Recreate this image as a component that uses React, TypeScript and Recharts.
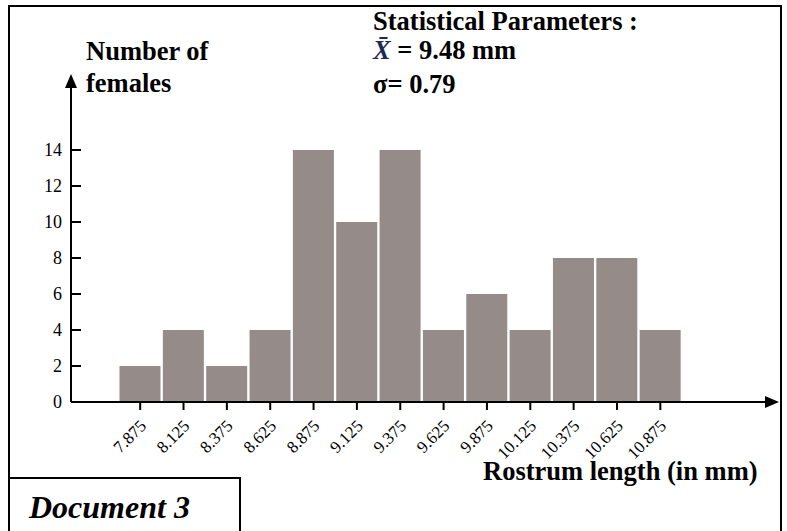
import React from 'react';
import { BarChart, Bar, XAxis, YAxis } from 'recharts';

const categories = ['7.875', '8.125', '8.375', '8.625', '8.875', '9.125', '9.375', '9.625', '9.875', '10.125', '10.375', '10.625', '10.875'];
const counts = [2, 4, 2, 4, 14, 10, 14, 4, 6, 4, 8, 8, 4];
const yTicks = [0, 2, 4, 6, 8, 10, 12, 14];

const data = categories.map((c, i) => ({ bin: c, count: counts[i] }));

const SERIF = '"Liberation Serif", "Times New Roman", serif';
const BAR_FILL = '#958b89';
const AXIS_X = 71;

const YTick = (props: any) => {
  const { y, payload } = props;
  return (
    <g>
      <line x1={AXIS_X} x2={AXIS_X + 10} y1={y} y2={y} stroke="#000" strokeWidth={2} />
      <text x={62} y={y} dy="0.36em" textAnchor="end" fontFamily={SERIF} fontSize={18} fill="#000">
        {payload.value}
      </text>
    </g>
  );
};

const XTick = (props: any) => {
  const { x, y, payload } = props;
  const ax = x + 7;
  const ay = y + 15;
  return (
    <text
      x={ax}
      y={ay}
      textAnchor="end"
      transform={`rotate(-45, ${ax}, ${ay})`}
      fontFamily={SERIF}
      fontSize={17}
      fill="#000"
    >
      {payload.value}
    </text>
  );
};

const BarShape = (props: any) => {
  const { x, y, width, height } = props;
  if (!height || height <= 0) return null;
  return <rect x={x + 1} y={y} width={Math.max(0, width - 2)} height={height} fill={BAR_FILL} />;
};

export default function App() {
  return (
    <div style={{ position: 'absolute', left: 0, top: 0, width: 787, height: 531, background: '#fff', overflow: 'hidden' }}>
      <svg width={0} height={0} style={{ position: 'absolute' }}>
        <defs>
          <marker id="arrowHead" markerUnits="userSpaceOnUse" markerWidth={14} markerHeight={12} viewBox="0 0 14 12" refX={12} refY={6} orient="auto-start-reverse">
            <path d="M0,0 L14,6 L0,12 Z" fill="#000" />
          </marker>
        </defs>
      </svg>
      <div style={{ position: 'absolute', left: 0, top: 0 }}>
        <BarChart
          width={787}
          height={531}
          data={data}
          margin={{ top: 76, right: 10, left: 0, bottom: 0 }}
          barCategoryGap={0}
          barGap={0}
        >
          <XAxis
            dataKey="bin"
            type="category"
            height={129}
            padding={{ left: 47.5, right: 95 }}
            axisLine={{ stroke: '#000', strokeWidth: 2, markerEnd: 'url(#arrowHead)' }}
            tickLine={{ stroke: '#000', strokeWidth: 2 }}
            tickSize={8}
            tickMargin={2}
            interval={0}
            tick={<XTick />}
          />
          <YAxis
            type="number"
            width={71}
            domain={[0, 18.11]}
            ticks={yTicks}
            interval={0}
            axisLine={{ stroke: '#000', strokeWidth: 2, markerStart: 'url(#arrowHead)' }}
            tickLine={false}
            tick={<YTick />}
          />
          <Bar dataKey="count" fill={BAR_FILL} isAnimationActive={false} shape={<BarShape />} />
        </BarChart>
      </div>
      <svg width={787} height={531} style={{ position: 'absolute', left: 0, top: 0, pointerEvents: 'none' }}>
        <path d="M9,531 V6 H781 V531" fill="none" stroke="#000" strokeWidth={2} />
        <path d="M9,478 H240 V531" fill="none" stroke="#000" strokeWidth={2} />
        <g fontFamily={SERIF} fontWeight="bold" fill="#000">
          <text x={86} y={60} fontSize={26.5}>Number of</text>
          <text x={86} y={91.5} fontSize={26.5}>females</text>
          <text x={373} y={30} fontSize={26.5}>Statistical Parameters :</text>
          <text x={373} y={59.3} fontSize={26.5}>
            <tspan fontStyle="italic" fill="#1c2a55">X̄</tspan>
            <tspan> = 9.48 mm</tspan>
          </text>
          <text x={373} y={93} fontSize={26.5}>σ= 0.79</text>
          <text x={483} y={480} fontSize={26.5}>Rostrum length (in mm)</text>
          <text x={29} y={518} fontSize={32} fontStyle="italic">Document 3</text>
        </g>
      </svg>
    </div>
  );
}
